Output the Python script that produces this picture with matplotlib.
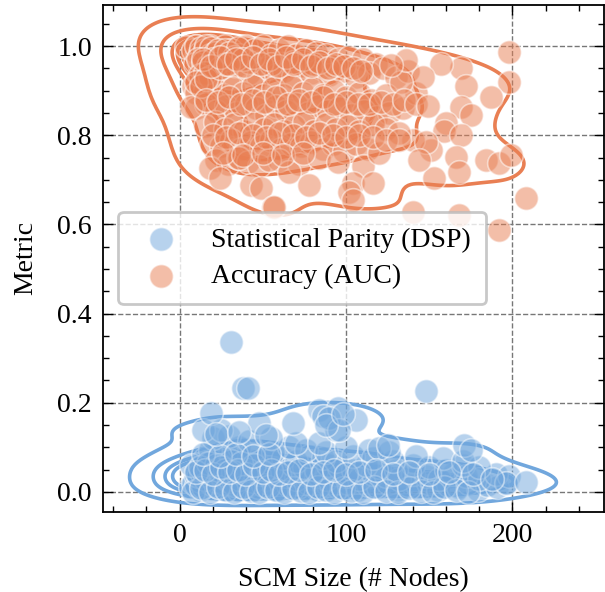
import matplotlib
matplotlib.use("Agg")
import matplotlib.pyplot as plt
import seaborn as sns
import numpy as np

# accuracy (AUC) points: (scm size, metric)
auc_x = [10, 14, 18, 22, 27, 31, 36, 40, 45, 50, 55, 60, 65, 70, 76, 82, 88, 95, 102, 110, 118, 4,
         12, 17, 24, 29, 34, 42, 47, 53, 58, 63, 68, 73, 79, 85, 90, 98, 106, 114, 122, 130, 137,
         12, 20, 30, 42, 55, 68, 80, 92,
         8, 15, 20, 26, 32, 38, 44, 50, 56, 62, 67, 74, 80, 86, 93, 100, 108, 115, 124, 10,
         10, 16, 22, 28, 34, 40, 46, 52, 58, 64, 70, 77, 83, 89, 96, 103, 111, 118, 126, 134, 7,
         15, 21, 27, 33, 39, 45, 51, 57, 63, 69, 75, 81, 88, 94, 101, 108, 116, 124,
         19, 25, 31, 37, 43, 49, 55, 61, 67, 73, 79, 86, 92, 99, 106, 113,
         22, 29, 35, 41, 48, 60, 72, 84, 95, 110, 18, 24, 43, 49, 54, 36, 66, 78,
         198, 198, 169, 157, 172, 187, 169, 175, 160, 159, 169, 151, 166, 168, 184, 192, 199,
         153, 142, 146, 133, 136, 127, 140, 148, 132, 120, 104, 116, 144, 102,
         56, 104, 140, 168, 192, 208, 57,
         8, 10, 12, 13, 15, 16, 18, 19, 21, 23, 9, 11, 14, 17, 20, 22, 25, 12, 15, 18,
         10, 13, 16, 24, 27, 30, 33, 28, 35, 38,
         14, 19, 24, 29, 34, 39, 44, 49, 54, 59, 64, 69, 74, 79, 84, 89, 94, 99, 104, 109,
         16, 23, 30, 37, 44, 51, 58, 65, 72, 79, 86, 93, 100, 107, 114, 121, 128, 135, 142, 149,
         20, 28, 36, 44, 52, 60, 68, 76, 84, 92, 100, 108, 116, 124, 132,
         26, 38, 50, 62, 74]
auc_y = [1.0, 0.99, 1.0, 0.98, 1.0, 0.99, 0.98, 1.0, 0.99, 1.0, 0.98, 0.99, 1.0, 0.98, 0.99, 0.985, 0.98, 0.97, 0.975, 0.97, 0.96, 0.998,
         0.95, 0.94, 0.95, 0.93, 0.955, 0.94, 0.93, 0.95, 0.935, 0.945, 0.93, 0.955, 0.94, 0.95, 0.935, 0.945, 0.93, 0.94, 0.95, 0.93, 0.945,
         0.975, 0.965, 0.97, 0.965, 0.96, 0.965, 0.96, 0.955,
         0.91, 0.90, 0.91, 0.89, 0.905, 0.895, 0.91, 0.89, 0.905, 0.89, 0.91, 0.895, 0.905, 0.89, 0.90, 0.885, 0.895, 0.88, 0.89, 0.894,
         0.86, 0.87, 0.855, 0.865, 0.85, 0.87, 0.86, 0.845, 0.865, 0.855, 0.87, 0.85, 0.865, 0.855, 0.86, 0.845, 0.855, 0.84, 0.85, 0.86, 0.863,
         0.82, 0.83, 0.815, 0.825, 0.81, 0.83, 0.815, 0.825, 0.81, 0.82, 0.83, 0.81, 0.825, 0.815, 0.82, 0.81, 0.825, 0.815,
         0.78, 0.775, 0.79, 0.77, 0.785, 0.775, 0.79, 0.77, 0.78, 0.775, 0.785, 0.77, 0.78, 0.765, 0.78, 0.77,
         0.745, 0.735, 0.75, 0.74, 0.73, 0.745, 0.735, 0.75, 0.74, 0.73, 0.726, 0.704, 0.688, 0.682, 0.744, 0.749, 0.717, 0.688,
         0.987, 0.92, 0.95, 0.96, 0.91, 0.886, 0.863, 0.845, 0.827, 0.81, 0.80, 0.767, 0.751, 0.717, 0.744, 0.737, 0.756,
         0.704, 0.895, 0.93, 0.92, 0.969, 0.957, 0.789, 0.785, 0.805, 0.76, 0.693, 0.693, 0.744, 0.673,
         0.64, 0.655, 0.628, 0.62, 0.587, 0.659, 0.64,
         0.99, 1.0, 0.985, 0.995, 0.99, 1.0, 0.98, 0.995, 0.985, 0.99, 0.96, 0.97, 0.965, 0.955, 0.97, 0.96, 0.975, 0.935, 0.94, 0.93,
         0.92, 0.91, 0.925, 0.95, 0.99, 0.985, 0.975, 0.96, 0.995, 0.97,
         0.97, 0.955, 0.975, 0.96, 0.97, 0.955, 0.975, 0.96, 0.97, 0.955, 0.975, 0.96, 0.97, 0.955, 0.965, 0.95, 0.96, 0.955, 0.95, 0.945,
         0.88, 0.875, 0.885, 0.87, 0.88, 0.875, 0.885, 0.87, 0.88, 0.875, 0.885, 0.87, 0.875, 0.87, 0.87, 0.875, 0.87, 0.88, 0.87, 0.865,
         0.8, 0.795, 0.805, 0.8, 0.795, 0.805, 0.8, 0.795, 0.805, 0.8, 0.795, 0.8, 0.795, 0.79, 0.79,
         0.76, 0.755, 0.76, 0.755, 0.76]

# statistical parity (DSP) points
dsp_x = [12, 17, 23, 29, 35, 41, 47, 53, 59, 65, 71, 77, 83, 89, 95, 101, 107, 113, 119, 125, 131, 137, 143, 149, 155, 161, 167, 173, 179, 185, 191, 197,
         10, 16, 22, 28, 34, 40, 46, 52, 58, 64, 70, 76, 82, 88, 94, 100, 108, 116, 124, 132, 140, 148, 156, 164, 172, 180, 190, 198,
         13, 19, 26, 33, 40, 47, 54, 61, 68, 75, 82, 89, 96, 104, 112, 120, 130, 140, 150, 160, 170, 180,
         15, 22, 30, 38, 46, 54, 62, 70, 78, 86, 94, 104, 116, 128, 142, 158, 170,
         18, 28, 36, 44, 56, 66, 76, 88, 100, 114, 126,
         20, 30, 42, 55, 70, 84, 94, 14, 25,
         11, 15, 20, 26, 32, 38, 44, 50, 14, 21, 27, 34, 41, 48, 18, 24, 31, 37, 9, 13,
         31, 38, 41, 148, 19, 84, 95, 106, 68, 48, 171, 175, 120, 125, 196, 208,
         6, 8, 10, 12, 14, 16, 18, 20, 22, 24, 26, 28, 9, 11, 13, 15, 17, 19, 21, 23,
         25, 30, 33, 36, 7, 12, 17, 22, 27, 32,
         86, 90, 96, 88, 98,
         8, 13, 18, 23, 28, 33, 38, 43, 48, 53, 58, 63, 68, 73, 78, 83, 88, 93, 98, 103,
         110, 117, 124, 131, 138, 145, 152, 159, 166, 173,
         10, 15, 20, 25, 30, 35, 40, 45, 50, 55, 60, 65, 72, 79, 86, 93, 100, 108, 118, 128,
         138, 150, 162, 176, 188, 14, 24, 34, 44, 54,
         22, 36, 52]
dsp_y = [0.005, 0.015, 0.01, 0.02, 0.005, 0.015, 0.01, 0.02, 0.005, 0.015, 0.01, 0.02, 0.005, 0.015, 0.01, 0.02, 0.005, 0.015, 0.01, 0.02, 0.005, 0.015, 0.01, 0.02, 0.005, 0.015, 0.01, 0.02, 0.005, 0.015, 0.01, 0.02,
         0.035, 0.03, 0.04, 0.035, 0.03, 0.04, 0.035, 0.03, 0.04, 0.035, 0.03, 0.04, 0.035, 0.03, 0.04, 0.035, 0.03, 0.04, 0.035, 0.03, 0.04, 0.035, 0.03, 0.04, 0.035, 0.03, 0.04, 0.035,
         0.055, 0.05, 0.06, 0.055, 0.05, 0.06, 0.055, 0.05, 0.06, 0.055, 0.05, 0.06, 0.055, 0.05, 0.06, 0.055, 0.05, 0.06, 0.055, 0.05, 0.06, 0.055,
         0.075, 0.07, 0.08, 0.075, 0.07, 0.08, 0.075, 0.07, 0.08, 0.075, 0.07, 0.08, 0.075, 0.07, 0.08, 0.075, 0.07,
         0.095, 0.09, 0.1, 0.095, 0.09, 0.1, 0.095, 0.09, 0.1, 0.095, 0.09,
         0.12, 0.125, 0.115, 0.12, 0.11, 0.11, 0.139, 0.139, 0.14,
         0.01, 0.025, 0.015, 0.03, 0.02, 0.01, 0.025, 0.015, 0.045, 0.04, 0.05, 0.045, 0.05, 0.04, 0.065, 0.06, 0.07, 0.065, 0.02, 0.04,
         0.336, 0.233, 0.233, 0.226, 0.177, 0.184, 0.188, 0.161, 0.155, 0.155, 0.105, 0.094, 0.099, 0.105, 0.02, 0.022,
         0.01, 0.02, 0.015, 0.025, 0.01, 0.03, 0.02, 0.015, 0.025, 0.035, 0.02, 0.03, 0.04, 0.035, 0.045, 0.03, 0.05, 0.04, 0.045, 0.05,
         0.04, 0.025, 0.015, 0.03, 0.06, 0.055, 0.065, 0.06, 0.05, 0.045,
         0.17, 0.165, 0.14, 0.15, 0.175,
         0.0, 0.008, 0.0, 0.012, 0.004, 0.0, 0.01, 0.003, 0.0, 0.012, 0.005, 0.0, 0.008, 0.002, 0.0, 0.01, 0.004, 0.0, 0.009, 0.002,
         0.0, 0.01, 0.003, 0.0, 0.008, 0.002, 0.0, 0.01, 0.004, 0.0,
         0.045, 0.05, 0.04, 0.055, 0.045, 0.05, 0.04, 0.06, 0.045, 0.05, 0.04, 0.045, 0.05, 0.04, 0.045, 0.05, 0.04, 0.045, 0.05, 0.04,
         0.045, 0.04, 0.045, 0.04, 0.03, 0.085, 0.08, 0.085, 0.08, 0.085,
         0.13, 0.135, 0.128]

x_ticks = [0, 100, 200]
y_ticks = [0.0, 0.2, 0.4, 0.6, 0.8, 1.0]

blue = "#71a7dd"
orange = "#e97f53"

plt.rcParams["font.family"] = ["Liberation Serif", "DejaVu Serif"]
plt.rcParams["font.size"] = 20

fig = plt.figure(figsize=(6.05, 5.92), dpi=100)
ax = fig.add_axes([103 / 605, 80 / 592, 501 / 605, 507 / 592])

ax.grid(True, which="major", linestyle="--", color="#777777", linewidth=1.0)
ax.set_axisbelow(True)

# density contours first, points drawn over them
sns.kdeplot(x=np.array(dsp_x, float), y=np.array(dsp_y, float), ax=ax, levels=6, bw_adjust=0.9,
            color=blue, linewidths=2.6, zorder=1)
sns.kdeplot(x=np.array(auc_x, float), y=np.array(auc_y, float), ax=ax, levels=6, bw_adjust=0.9,
            color=orange, linewidths=2.6, zorder=1)

ax.scatter(dsp_x, dsp_y, s=290, color=blue, alpha=0.5, edgecolors="white", linewidths=1.2,
           label="Statistical Parity (DSP)", zorder=2)
ax.scatter(auc_x, auc_y, s=290, color=orange, alpha=0.5, edgecolors="white", linewidths=1.2,
           label="Accuracy (AUC)", zorder=2)

ax.set_xlim(-46, 255)
ax.set_ylim(-0.045, 1.092)
ax.set_xticks(x_ticks)
ax.set_yticks(y_ticks)
ax.set_yticklabels(["%.1f" % v for v in y_ticks])
ax.xaxis.set_minor_locator(matplotlib.ticker.MultipleLocator(20))
ax.yaxis.set_minor_locator(matplotlib.ticker.MultipleLocator(0.05))
ax.tick_params(which="both", direction="in", top=True, right=True, labelsize=20, width=1, pad=8)
ax.tick_params(which="major", length=7)
ax.tick_params(which="minor", length=4)
for sp in ax.spines.values():
    sp.set_linewidth(1.3)

ax.set_xlabel("SCM Size (# Nodes)", fontsize=20, labelpad=14)
ax.set_ylabel("Metric", fontsize=20, labelpad=14)

leg = ax.legend(loc="upper left", bbox_to_anchor=(0.03, 0.592), borderaxespad=0,
                fontsize=20, handletextpad=0.8, frameon=True, fancybox=True,
                borderpad=0.55, labelspacing=0.4, handlelength=2.0)
leg.get_frame().set_edgecolor("#bbbbbb")
leg.get_frame().set_linewidth(2)
leg.get_frame().set_alpha(0.8)
leg.set_zorder(5)

fig.savefig("out.png", dpi=100)
